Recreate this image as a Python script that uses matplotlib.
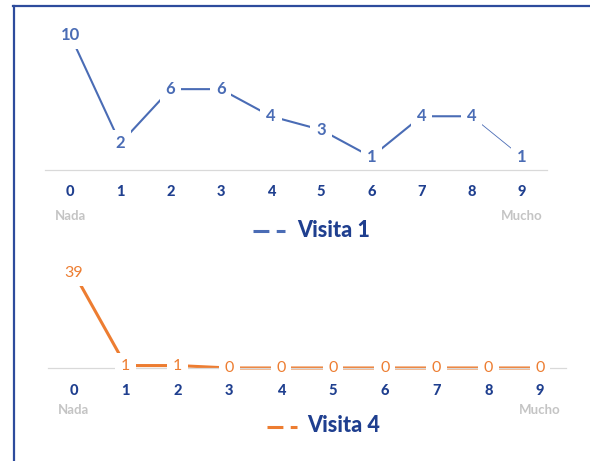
import matplotlib
matplotlib.use("Agg")
import matplotlib.pyplot as plt
from matplotlib.lines import Line2D

plt.rcParams['font.family'] = ['Lato', 'DejaVu Sans']

# Escala 0 (Nada) a 9 (Mucho)
categorias = [0, 1, 2, 3, 4, 5, 6, 7, 8, 9]
visita1 = [10, 2, 6, 6, 4, 3, 1, 4, 4, 1]
visita4 = [39, 1, 1, 0, 0, 0, 0, 0, 0, 0]
extremos = ["Nada", "Mucho"]
series_nombres = ["Visita 1", "Visita 4"]

AZUL_LINEA = "#4a6cb5"
AZUL_TEXTO = "#1f3f8f"
NARANJA = "#ed7d31"
GRIS_EJE = "#d9d9d9"
GRIS_TEXTO = "#c4c4c4"
BORDE = "#2d4b9c"

W, H = 590, 461
fig = plt.figure(figsize=(W / 100, H / 100), dpi=100)


def fx(px):
    return px / W


def fy(py):
    return 1 - py / H


def panel(ax, valores, etiqueta_kw, tick_off, ext_off, eje_z):
    ax.set_xlim(-0.5, 9.5)
    ax.axis("off")
    ax.axhline(0, color=GRIS_EJE, lw=0.9, zorder=eje_z, clip_on=False)
    for c, v in zip(categorias, valores):
        ax.text(c, v, str(v), ha="center", va="center", zorder=5,
                bbox=dict(boxstyle="square,pad=0.35", fc="white", ec="none"),
                **etiqueta_kw)
        ax.annotate(str(c), xy=(c, 0), xytext=(0, -tick_off), textcoords="offset pixels",
                    ha="center", va="center", fontsize=10.5, fontweight="black",
                    color=AZUL_TEXTO)
    for c, t in zip([categorias[0], categorias[-1]], extremos):
        ax.annotate(t, xy=(c, 0), xytext=(0, -ext_off), textcoords="offset pixels",
                    ha="center", va="center", fontsize=9.5, fontweight="bold",
                    color=GRIS_TEXTO)


# Panel superior: Visita 1
ax1 = fig.add_axes([fx(45), fy(170.5), fx(502), 11.5 * 13.56 / H])
ax1.set_ylim(0, 11.5)
ax1.plot(categorias[:9], visita1[:9], color=AZUL_LINEA, lw=1.5, zorder=2,
         solid_capstyle="butt", clip_on=False)
ax1.plot(categorias[8:], visita1[8:], color=AZUL_LINEA, lw=0.6, zorder=2, clip_on=False)
panel(ax1, visita1, dict(fontsize=12, fontweight="bold", color=AZUL_LINEA), 22, 46, 6)

# Panel inferior: Visita 4
ax2 = fig.add_axes([fx(48), fy(368), fx(518), 42 * 2.436 / H])
ax2.set_ylim(0, 42)
ax2.plot(categorias, visita4, color=NARANJA, lw=2.2, zorder=2,
         solid_capstyle="butt", clip_on=False)
panel(ax2, visita4, dict(fontsize=11.5, fontweight="normal", color=NARANJA), 23, 42, 3)

# Leyendas
for (x0, x1, y, tx), col, nombre in zip(
        [(253, 285, 231, 297), (267, 297, 426.5, 307)],
        [AZUL_LINEA, NARANJA], series_nombres):
    fig.add_artist(Line2D([fx(x0), fx(x1)], [fy(y), fy(y)], color=col, lw=2.2,
                          linestyle=(0, (5.2, 2.4)), transform=fig.transFigure))
    fig.text(fx(tx), fy(y - 1), nombre, ha="left", va="center", fontsize=15.5,
             fontweight="black", color=AZUL_TEXTO)

# Marco
fig.add_artist(Line2D([fx(14), fx(14)], [fy(6), 0], color=BORDE, lw=1.6,
                      transform=fig.transFigure))
fig.add_artist(Line2D([fx(13.2), 1], [fy(6), fy(6)], color=BORDE, lw=1.6,
                      transform=fig.transFigure))

fig.savefig("out.png", dpi=100, facecolor="white")
